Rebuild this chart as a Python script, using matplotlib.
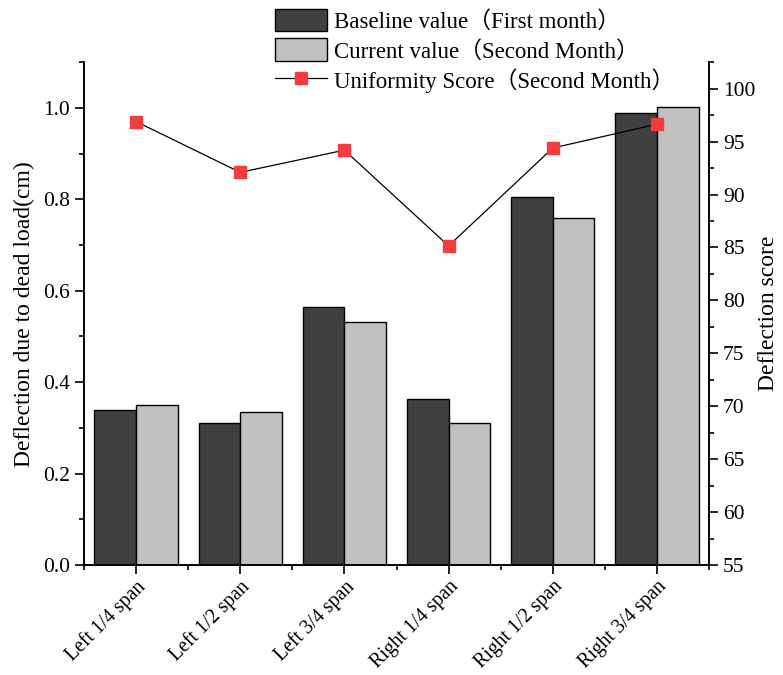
import numpy as np
import matplotlib
matplotlib.use("Agg")
import matplotlib.pyplot as plt
from matplotlib.ticker import MultipleLocator
from matplotlib.patches import Patch
from matplotlib.lines import Line2D

plt.rcParams['font.family'] = ['Liberation Serif', 'Noto Sans CJK SC']
plt.rcParams['mathtext.fontset'] = 'stix'

positions = ["Left 1/4 span", "Left 1/2 span", "Left 3/4 span",
             "Right 1/4 span", "Right 1/2 span", "Right 3/4 span"]
baseline = [0.339, 0.311, 0.564, 0.364, 0.805, 0.989]
current = [0.349, 0.335, 0.531, 0.310, 0.760, 1.002]
score = [96.9, 92.1, 94.2, 85.15, 94.4, 96.65]

tick_fs = 15.5
label_fs = 17
fig = plt.figure(figsize=(7.83, 6.75), dpi=100)
ax = fig.add_axes([0.1073, 0.163, 0.7982, 0.7447])

x = np.arange(len(positions))
w = 0.4
ax.bar(x - w / 2, baseline, w, color="#404040", edgecolor="black", linewidth=1)
ax.bar(x + w / 2, current, w, color="#c0c0c0", edgecolor="black", linewidth=1)

ax.set_xlim(-0.5, 5.5)
ax.set_ylim(0, 1.1)
ax.set_xticks(x)
ax.set_xticklabels(positions, rotation=45, ha="right", va="top",
                   rotation_mode="anchor", fontsize=14.2)
ax.xaxis.set_minor_locator(MultipleLocator(1, offset=0.5))
ax.yaxis.set_major_locator(MultipleLocator(0.2))
ax.yaxis.set_minor_locator(MultipleLocator(0.1))
ax.yaxis.set_major_formatter(matplotlib.ticker.FormatStrFormatter("%.1f"))
ax.tick_params(axis="y", which="major", direction="out", length=6.5,
               width=1.2, labelsize=tick_fs)
ax.tick_params(axis="x", which="major", direction="out", length=6.5, width=1.2,
               pad=2)
ax.tick_params(axis="both", which="minor", direction="out", length=3.5, width=1.2)
ax.set_ylabel("Deflection due to dead load(cm)", fontsize=label_fs, labelpad=6)
ax.spines["top"].set_visible(False)
for s in ["left", "right", "bottom"]:
    ax.spines[s].set_linewidth(1.2)

ax2 = ax.twinx()
ax2.plot(x, score, color="black", linewidth=0.9, marker="s", markersize=8,
         markerfacecolor="#f53c3c", markeredgecolor="#f53c3c")
ax2.set_ylim(55, 102.5)
ax2.yaxis.set_major_locator(MultipleLocator(5))
ax2.yaxis.set_minor_locator(MultipleLocator(2.5))
ax2.tick_params(axis="y", which="major", direction="out", length=6.5,
                width=1.2, labelsize=tick_fs)
ax2.tick_params(axis="y", which="minor", direction="out", length=3.5, width=1.2)
ax2.set_ylabel("Deflection score", fontsize=label_fs, labelpad=2)
ax2.spines["top"].set_visible(False)
for s in ["left", "right", "bottom"]:
    ax2.spines[s].set_linewidth(1.2)

handles = [
    Patch(facecolor="#404040", edgecolor="black", linewidth=1),
    Patch(facecolor="#c0c0c0", edgecolor="black", linewidth=1),
    Line2D([], [], color="black", linewidth=0.9, marker="s", markersize=8,
           markerfacecolor="#f53c3c", markeredgecolor="#f53c3c"),
]
labels = ["Baseline value（First month）",
          "Current value（Second Month）",
          "Uniformity Score（Second Month）"]
fig.legend(handles, labels, loc="upper left", bbox_to_anchor=(0.345, 0.994),
           frameon=False, fontsize=16.5, handlelength=2.3, handleheight=1.15,
           handletextpad=0.3, labelspacing=0.25, borderaxespad=0,
           borderpad=0.2)

fig.savefig("out.png", dpi=100)
